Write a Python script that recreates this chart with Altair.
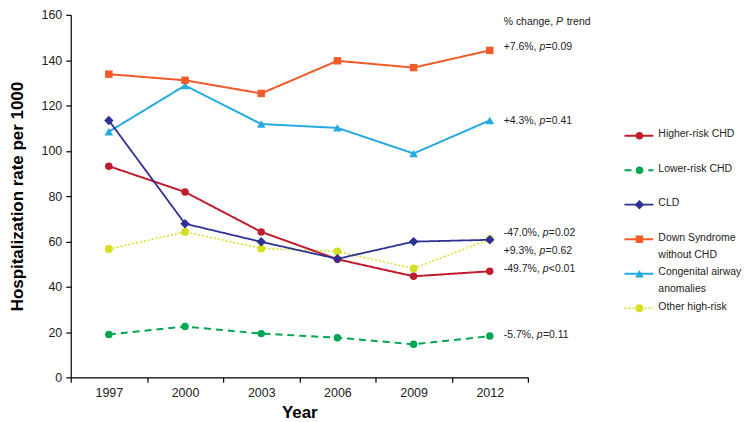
import altair as alt
import pandas as pd

# ---------------- data ----------------
years = ["1997", "2000", "2003", "2006", "2009", "2012"]

series_names = [
    "Higher-risk CHD",
    "Lower-risk CHD",
    "CLD",
    "Down Syndrome without CHD",
    "Congenital airway anomalies",
    "Other high-risk",
]
legend_labels = [
    "Higher-risk CHD",
    "Lower-risk CHD",
    "CLD",
    "Down Syndrome\nwithout CHD",
    "Congenital airway\nanomalies",
    "Other high-risk",
]

higher_risk_chd = [93.2, 81.8, 64.2, 52.1, 44.6, 46.8]
lower_risk_chd = [18.9, 22.4, 19.3, 17.5, 14.6, 18.2]
cld = [113.4, 67.8, 59.8, 52.3, 59.9, 60.7]
down_syndrome = [133.8, 131.1, 125.3, 139.7, 136.7, 144.3]
airway = [108.4, 128.8, 111.8, 110.1, 98.8, 113.4]
other_high_risk = [56.6, 64.2, 56.9, 55.6, 48.0, 61.0]

values_by_series = [higher_risk_chd, lower_risk_chd, cld, down_syndrome, airway, other_high_risk]

# annotations at the right (% change, P trend)
header_parts = ["% change,", "P", "trend"]
header_y = 157.0
ann_pre = ["+7.6%,", "+4.3%,", "-47.0%,", "+9.3%,", "-49.7%,", "-5.7%,"]
ann_post = ["=0.09", "=0.41", "=0.02", "=0.62", "<0.01", "=0.11"]
ann_y = [145.7, 113.3, 63.5, 55.8, 47.7, 18.9]

# ---------------- styles ----------------
colors = ["#BE1E2D", "#00A651", "#2E3192", "#F15A29", "#27AAE1", "#D7DF23"]
dashes = [[1, 0], [7, 5], [1, 0], [1, 0], [1, 0], [2, 2]]
widths = [2, 2, 1.8, 2, 2, 1.5]
shapes = ["circle", "circle", "diamond", "square", "triangle-up", "circle"]
sizes = [56, 56, 90, 56, 75, 64]
draw_order = [1, 5, 0, 4, 3, 2]  # back to front

FONT = "Liberation Sans"
ANN_FS = 10.5
LEG_FS = 10.5

W = {' ': 278, '%': 889, '+': 584, ',': 278, '-': 333, '.': 278, '=': 584, '<': 584,
     'p': 556, 'P': 667, 'c': 500, 'h': 556, 'a': 556, 'n': 556, 'g': 556, 'e': 556,
     't': 278, 'r': 333, 'd': 556}
for d in "0123456789":
    W[d] = 556


def text_width(s, fs):
    return sum(W.get(c, 556) for c in s) / 1000.0 * fs


SPACE = text_width(" ", ANN_FS)

PLOT_W = 459
PLOT_H = 364

x_enc = alt.X(
    "year:O",
    scale=alt.Scale(type="band", domain=years, paddingInner=0, paddingOuter=0),
    axis=alt.Axis(title="Year", labelAngle=0, tickBand="extent", tickSize=5,
                  labelPadding=4, titlePadding=6),
)
y_enc = alt.Y(
    "value:Q",
    scale=alt.Scale(domain=[0, 160], nice=False),
    axis=alt.Axis(title="Hospitalization rate per 1000", values=list(range(0, 161, 20)),
                  grid=False, tickSize=5, labelPadding=4, titlePadding=15),
)

layers = []
for i in draw_order:
    df = pd.DataFrame({"year": years, "value": values_by_series[i], "series": series_names[i]})
    base = alt.Chart(df)
    layers.append(
        base.mark_line(color=colors[i], strokeWidth=widths[i], strokeDash=dashes[i])
        .encode(x=x_enc, y=y_enc)
    )
    layers.append(
        base.mark_point(shape=shapes[i], size=sizes[i], filled=True, opacity=1, color=colors[i])
        .encode(x=x_enc, y=y_enc)
    )

# annotation texts: (pre, italic mid, post, gap after mid, y)
DX0 = 14
rows = [(header_parts[0], header_parts[1], header_parts[2], SPACE + 0.8, header_y)]
for pre, post, yv in zip(ann_pre, ann_post, ann_y):
    rows.append((pre, "p", post, 0.3, yv))

for pre, mid, post, gap, yv in rows:
    df = pd.DataFrame({"year": [years[-1]], "value": [yv], "pre": [pre], "mid": [mid], "post": [post]})
    base = alt.Chart(df)
    w_pre = text_width(pre, ANN_FS) + SPACE
    w_mid = text_width(mid, ANN_FS) + gap
    common = dict(align="left", baseline="middle", font=FONT, fontSize=ANN_FS, color="#222222")
    layers.append(base.mark_text(dx=DX0, **common).encode(x=x_enc, y=y_enc, text="pre:N"))
    layers.append(base.mark_text(dx=DX0 + w_pre, fontStyle="italic", **common)
                  .encode(x=x_enc, y=y_enc, text="mid:N"))
    layers.append(base.mark_text(dx=DX0 + w_pre + w_mid, **common)
                  .encode(x=x_enc, y=y_enc, text="post:N"))

main = alt.layer(*layers).properties(width=PLOT_W, height=PLOT_H)

# ---------------- custom legend ----------------
leg_y = alt.Y("idx:Q", scale=alt.Scale(domain=[-3.5, 7.0], reverse=True, nice=False, zero=False), axis=None)
leg_layers = []
for i in range(len(series_names)):
    df = pd.DataFrame({"idx": [i], "label": [legend_labels[i]]})
    base = alt.Chart(df)
    leg_layers.append(
        base.mark_rule(color=colors[i], strokeWidth=widths[i], strokeDash=dashes[i])
        .encode(x=alt.value(0), x2=alt.value(29), y=leg_y)
    )
    leg_layers.append(
        base.mark_point(shape=shapes[i], size=sizes[i], filled=True, opacity=1, color=colors[i])
        .encode(x=alt.value(15), y=leg_y)
    )
    leg_layers.append(
        base.mark_text(align="left", baseline="top", dy=-6.5, font=FONT, fontSize=LEG_FS,
                       lineBreak="\n", lineHeight=17, color="#222222")
        .encode(x=alt.value(34), y=leg_y, text="label:N")
    )
legend = alt.layer(*leg_layers).properties(width=108, height=PLOT_H)

chart = (
    alt.hconcat(main, legend, spacing=97, bounds="flush")
    .resolve_scale(x="independent", y="independent")
    .properties(padding={"left": 0, "top": 0, "right": 0, "bottom": 0})
    .configure_view(stroke=None)
    .configure_axis(
        domainColor="#000000", tickColor="#000000", labelColor="#222222",
        labelFont=FONT, labelFontSize=12.5, titleFont=FONT, titleFontSize=17,
        titleFontWeight="bold", titleColor="#000000", domainWidth=1.2, tickWidth=1.2,
    )
)

chart.save("out.html", embed_options={"renderer": "svg", "actions": False})
